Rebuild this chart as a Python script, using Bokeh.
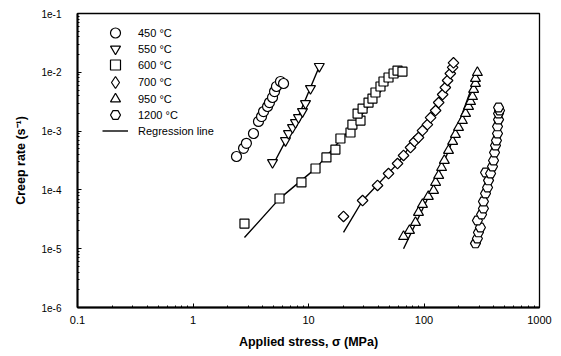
import math
from bokeh.plotting import figure
from bokeh.models import (Range1d, FixedTicker, CustomJSTickFormatter, Legend, LegendItem)
from bokeh.embed import file_html
from bokeh.resources import INLINE

# ---- data (applied stress MPa, creep rate 1/s) ----
s450 = [2.38, 2.74, 2.90, 3.34, 3.69, 3.92, 4.08, 4.42, 4.59, 4.88, 5.08, 5.28, 5.72, 6.08]
r450 = [3.7e-4, 5.1e-4, 6.2e-4, 9.1e-4, 1.46e-3, 1.77e-3, 2.15e-3, 2.62e-3, 3.06e-3, 3.73e-3, 4.71e-3, 5.74e-3, 6.98e-3, 6.45e-3]

s550 = [4.88, 6.32, 6.71, 7.27, 7.71, 8.19, 8.87, 9.42, 10.4, 12.4]
r550 = [2.92e-4, 6.9e-4, 9.1e-4, 1.15e-3, 1.40e-3, 1.70e-3, 2.15e-3, 2.95e-3, 5.3e-3, 1.26e-2]

s600 = [2.79, 5.61, 8.69, 11.5, 14.3, 17.1, 18.9, 23.1, 24.0, 28.2, 26.6, 29.4, 33.1, 35.8, 38.0, 42.0, 44.6, 49.3, 54.5, 59.0, 65.1]
r600 = [2.68e-5, 7.14e-5, 1.34e-4, 2.31e-4, 3.56e-4, 4.86e-4, 7.48e-4, 9.46e-4, 1.29e-3, 1.51e-3, 1.99e-3, 2.42e-3, 3.06e-3, 3.58e-3, 4.53e-3, 5.74e-3, 6.98e-3, 8.16e-3, 9.54e-3, 1.07e-2, 1.03e-2]

s700 = [20.1, 29.4, 39.6, 49.3, 59.0, 66.5, 76.4, 82.7, 89.6, 97.0, 107, 114, 126, 134, 145, 153, 160, 169, 177, 180]
r700 = [3.53e-5, 6.6e-5, 1.19e-4, 1.90e-4, 2.81e-4, 3.85e-4, 5.26e-4, 6.65e-4, 7.78e-4, 1.02e-3, 1.29e-3, 1.70e-3, 2.24e-3, 3.06e-3, 4.19e-3, 5.51e-3, 7.26e-3, 9.54e-3, 1.21e-2, 1.45e-2]

s950 = [66.5, 74.9, 84.4, 89.6, 97.0, 109, 121, 126, 134, 142, 150, 163, 177, 187, 199, 215, 229, 243, 253, 263, 269, 279, 279, 290]
r950 = [1.61e-5, 2.04e-5, 2.79e-5, 4.13e-5, 5.65e-5, 7.73e-5, 9.77e-5, 1.34e-4, 1.76e-4, 2.40e-4, 3.16e-4, 4.68e-4, 6.65e-4, 8.75e-4, 1.15e-3, 1.51e-3, 1.99e-3, 2.62e-3, 3.18e-3, 3.87e-3, 5.1e-3, 6.45e-3, 7.85e-3, 9.9e-3]

s1200 = [279, 290, 296, 308, 290, 315, 327, 327, 341, 355, 362, 341, 377, 392, 400, 408, 416, 424, 433, 433, 442, 442, 451, 442]
r1200 = [1.23e-5, 1.49e-5, 1.89e-5, 2.29e-5, 3.02e-5, 3.82e-5, 4.83e-5, 6.35e-5, 8.69e-5, 1.10e-4, 1.45e-4, 1.98e-4, 1.90e-4, 2.50e-4, 3.16e-4, 4.33e-4, 5.69e-4, 6.92e-4, 9.1e-4, 1.20e-3, 1.57e-3, 1.99e-3, 2.24e-3, 2.52e-3]

# regression lines
reg550_x = [4.9, 8.2, 12.4]
reg550_y = [2.6e-4, 1.8e-3, 1.26e-2]
reg600_x = [2.79, 5.61, 11.5, 23.1, 59.0]
reg600_y = [1.55e-5, 7.1e-5, 2.3e-4, 1.1e-3, 1.07e-2]
reg700_x = [20.1, 29.4, 59.0, 114, 177]
reg700_y = [1.89e-5, 6.6e-5, 2.8e-4, 1.7e-3, 1.21e-2]
reg950_x = [66.5, 109, 163, 290]
reg950_y = [1.0e-5, 7.5e-5, 4.6e-4, 1.0e-2]

labels = ["450 °C", "550 °C", "600 °C", "700 °C", "950 °C", "1200 °C", "Regression line"]
x_ticks = [0.1, 1, 10, 100, 1000]
y_ticks = [1e-6, 1e-5, 1e-4, 1e-3, 1e-2, 1e-1]

FONT = "Liberation Sans"

p = figure(width=561, height=356, x_axis_type="log", y_axis_type="log",
           x_range=Range1d(0.1, 1000), y_range=Range1d(1e-6, 1e-1),
           output_backend="svg", toolbar_location=None,
           min_border_left=77, min_border_right=22, min_border_top=13, min_border_bottom=49)
p.grid.visible = False
p.background_fill_color = "white"
p.border_fill_color = "white"
p.outline_line_color = "black"
p.outline_line_width = 1.3
p.outline_line_alpha = 1

minor_x = [k * 10.0 ** e for e in range(-1, 3) for k in range(2, 10)]
minor_y = [k * 10.0 ** e for e in range(-6, -1) for k in range(2, 10)]
p.xaxis.ticker = FixedTicker(ticks=x_ticks, minor_ticks=minor_x)
p.yaxis.ticker = FixedTicker(ticks=y_ticks, minor_ticks=minor_y)
p.xaxis.formatter = CustomJSTickFormatter(code="return String(tick);")
p.yaxis.formatter = CustomJSTickFormatter(code="return tick.toExponential(0);")

for ax in (p.xaxis, p.yaxis):
    ax.axis_line_width = 2
    ax.axis_line_color = "black"
    ax.major_tick_in = 4
    ax.major_tick_out = 0
    ax.minor_tick_in = 2
    ax.minor_tick_out = 0
    ax.major_tick_line_width = 1
    ax.major_label_text_font = FONT
    ax.major_label_text_color = "black"
    ax.axis_label_text_font = FONT
    ax.axis_label_text_font_style = "bold"
    ax.axis_label_text_color = "black"
    ax.axis_label_text_font_size = "12.5px"

p.xaxis.major_label_text_font_size = "11px"
p.yaxis.major_label_text_font_size = "10px"
p.xaxis.major_label_standoff = 8
p.yaxis.major_label_standoff = 16
p.xaxis.axis_label = "Applied stress, σ (MPa)"
p.yaxis.axis_label = "Creep rate (s⁻¹)"
p.xaxis.axis_label_standoff = 8
p.yaxis.axis_label_standoff = 10

lw = 1.4
for xs, ys in [(reg550_x, reg550_y), (reg600_x, reg600_y), (reg700_x, reg700_y), (reg950_x, reg950_y)]:
    rl = p.line(xs, ys, line_color="black", line_width=lw)

mk = dict(line_color="black", line_width=1.2, fill_color="white")
r1 = p.scatter(s450, r450, marker="circle", size=10, **mk)
r2 = p.scatter(s550, r550, marker="inverted_triangle", size=10, **mk)
r3 = p.scatter(s600, r600, marker="square", size=9, **mk)
r4 = p.scatter(s700, r700, marker="square", size=7.5, angle=math.pi / 4, **mk)
r5 = p.scatter(s950, r950, marker="triangle", size=10, **mk)
r6 = p.scatter(s1200, r1200, marker="hex", size=10, **mk)
# legend-only proxy for the diamond symbol (NaN point: not drawn in the plot)
r4_leg = p.scatter([float("nan")], [float("nan")], marker="diamond", size=10, **mk)

# one single-row legend per entry, so the legend symbols can be full size
renderers = [r1, r2, r3, r4_leg, r5, r6, rl]
for i, (lab, r) in enumerate(zip(labels, renderers)):
    gh = 30 if i == 3 else 25
    gw = 30 if i == 3 else 26
    lx = 23 if i == 3 else 25
    st = 8 if i == 3 else 10
    off = round(262.5 - 16.5 * i - (gh - 25) / 2)
    lg = Legend(items=[LegendItem(label=lab, renderers=[r])], location=(lx, off),
                border_line_alpha=0, background_fill_alpha=0, padding=0, margin=0,
                spacing=0, glyph_width=gw, glyph_height=gh, label_height=gh,
                label_standoff=st, label_text_font=FONT, label_text_font_size="11px",
                label_text_color="black")
    p.add_layout(lg, "center")

open("out.html", "w").write(file_html(p, INLINE))
